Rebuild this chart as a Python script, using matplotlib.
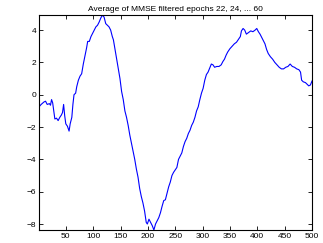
import matplotlib
matplotlib.use('Agg')
import matplotlib.pyplot as plt
import numpy as np

titleText = 'Average of MMSE filtered epochs 22, 24, ... 60'

xs = [1, 5, 10, 13, 16, 20, 22, 24, 26, 28, 30, 33, 36, 39, 42, 44, 46, 48, 50, 53,
      56, 58, 61, 63, 65, 68, 70, 73, 76, 79, 82, 85, 88, 90, 93, 96, 99, 102, 105, 108,
      111, 114, 117, 120, 123, 126, 129, 132, 135, 137, 140, 143, 146, 149, 152, 155, 158, 161, 164, 167,
      170, 173, 176, 179, 182, 185, 188, 191, 194, 197, 199, 202, 205, 208, 211, 214, 217, 220, 223, 226,
      229, 232, 235, 238, 241, 244, 247, 250, 253, 256, 259, 262, 265, 268, 271, 274, 277, 280, 283, 286,
      289, 292, 295, 298, 301, 304, 307, 310, 313, 316, 319, 322, 326, 330, 334, 337, 340, 343, 346, 350,
      354, 358, 362, 366, 369, 371, 374, 377, 380, 384, 388, 392, 396, 399, 402, 405, 408, 411, 414, 417,
      420, 424, 428, 432, 436, 440, 444, 448, 452, 456, 460, 464, 468, 472, 476, 479, 481, 484, 488, 491,
      494, 497, 500]
ys = [-0.75, -0.6, -0.45, -0.4, -0.6, -0.55, -0.65, -0.3, -0.5, -1.0, -1.5, -1.45, -1.6, -1.4, -1.25, -1.1, -0.6, -1.3, -1.8, -1.95,
      -2.25, -1.8, -1.4, -0.6, 0.0, 0.1, 0.5, 0.9, 1.15, 1.3, 1.9, 2.4, 2.9, 3.3, 3.3, 3.6, 3.8, 4.0, 4.2, 4.3,
      4.5, 4.75, 4.93, 4.8, 4.4, 4.3, 4.2, 4.0, 3.6, 3.4, 2.8, 2.2, 1.6, 1.0, 0.2, -0.3, -1.0, -1.4, -1.9, -2.5,
      -3.0, -3.5, -4.0, -4.6, -5.1, -5.8, -6.3, -6.7, -7.2, -7.9, -8.0, -7.7, -7.9, -8.1, -8.37, -8.0, -7.8, -7.6, -7.3, -6.9,
      -6.55, -6.5, -6.1, -5.7, -5.4, -5.0, -4.8, -4.65, -4.5, -4.0, -3.8, -3.6, -3.2, -2.9, -2.7, -2.4, -2.2, -1.9, -1.7, -1.4,
      -1.0, -0.75, -0.3, 0.1, 0.4, 0.9, 1.25, 1.4, 1.65, 1.9, 1.85, 1.7, 1.75, 1.75, 1.85, 2.05, 2.2, 2.45, 2.65, 2.85,
      3.0, 3.15, 3.25, 3.45, 3.6, 3.95, 4.1, 4.0, 3.75, 3.85, 3.95, 3.9, 4.0, 4.1, 3.9, 3.75, 3.55, 3.35, 3.15, 2.8,
      2.55, 2.35, 2.2, 2.0, 1.85, 1.7, 1.6, 1.6, 1.7, 1.75, 1.9, 1.75, 1.7, 1.6, 1.55, 1.4, 0.9, 0.8, 0.75, 0.65,
      0.55, 0.6, 0.85]

xTicks = list(range(50, 501, 50))
yTicks = list(range(-8, 5, 2))

plt.rcParams['font.family'] = ['Liberation Sans', 'DejaVu Sans']

fig = plt.figure(figsize=(3.23, 2.43), dpi=100)
ax = fig.add_axes([0.1207, 0.0535, 0.8453, 0.8845])
ax.plot(xs, ys, color='#0000ff', linewidth=0.8)

ax.set_xlim(1, 500)
ax.set_ylim(min(ys), max(ys))
ax.set_xticks(xTicks)
ax.set_yticks(yTicks)
ax.tick_params(direction='in', length=3, width=0.6, labelsize=6, top=True, right=True, pad=2)
for s in ax.spines.values():
    s.set_linewidth(0.8)
ax.set_title(titleText, fontsize=6, pad=3)

plt.savefig('out.png', dpi=100)
